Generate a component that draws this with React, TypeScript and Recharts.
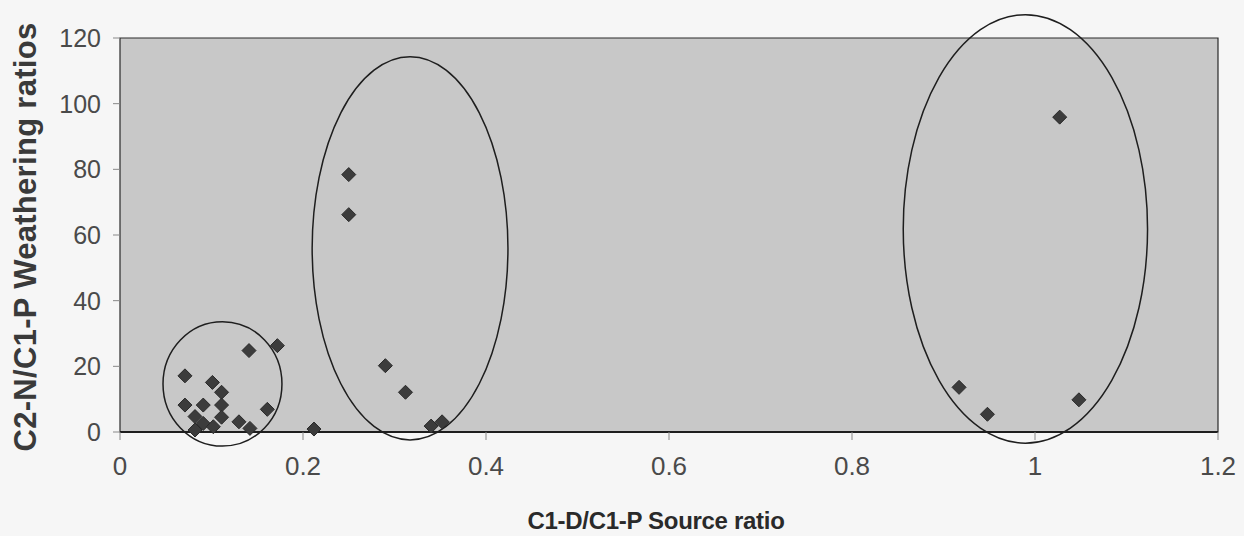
import React from 'react';
import {
  ScatterChart,
  Scatter,
  XAxis,
  YAxis,
  ReferenceArea,
} from 'recharts';

// source ratio (x) and weathering ratio (y) for each sample
const sourceRatio = [
  0.071, 0.141, 0.172, 0.101, 0.111, 0.071, 0.091, 0.111, 0.111, 0.082, 0.091, 0.082, 0.102, 0.13,
  0.142, 0.161, 0.212, 0.25, 0.25, 0.29, 0.312, 0.34, 0.352, 1.027, 0.917, 0.948, 1.048,
];
const weatheringRatio = [
  17.1, 24.8, 26.3, 15.1, 12.1, 8.2, 8.2, 8.2, 4.5, 4.7, 2.6, 0.6, 1.6, 3.1,
  1.1, 6.9, 0.9, 78.4, 66.2, 20.2, 12.1, 1.8, 3.1, 95.9, 13.6, 5.4, 9.8,
];

const xTicks = [0, 0.2, 0.4, 0.6, 0.8, 1, 1.2];
const yTicks = [0, 20, 40, 60, 80, 100, 120];

// group outlines, bounding boxes in data units
const groupX1 = [0.047, 0.21, 0.856];
const groupX2 = [0.177, 0.424, 1.123];
const groupY1 = [-4.3, -2.4, -3.4];
const groupY2 = [33.6, 114.3, 127.1];

const points = sourceRatio.map((x, i) => ({ x, y: weatheringRatio[i] }));

const font = '"Liberation Sans", Arial, sans-serif';

const Diamond = (props: any) => {
  const { cx, cy } = props;
  const r = 7;
  return (
    <polygon
      points={`${cx},${cy - r} ${cx + r},${cy} ${cx},${cy + r} ${cx - r},${cy}`}
      fill="#3c3c3c"
      stroke="#2a2a2a"
      strokeWidth={1}
    />
  );
};

const Ellipse = (props: any) => {
  const { x, y, width, height } = props;
  return (
    <ellipse
      cx={x + width / 2}
      cy={y + height / 2}
      rx={width / 2}
      ry={height / 2}
      fill="none"
      stroke="#1e1e1e"
      strokeWidth={1.5}
    />
  );
};

const YLabel = (props: any) => {
  const { viewBox } = props;
  const cy = viewBox.y + viewBox.height / 2 + 2;
  return (
    <text
      x={25}
      y={cy}
      transform={`rotate(-90, 25, ${cy})`}
      textAnchor="middle"
      dominantBaseline="central"
      fontFamily={font}
      fontWeight="bold"
      fontSize={31}
      letterSpacing={0.3}
      fill="#3a3a3a"
    >
      C2-N/C1-P Weathering ratios
    </text>
  );
};

const XLabel = (props: any) => {
  const { viewBox } = props;
  return (
    <text
      x={656}
      y={viewBox.y + viewBox.height - 16}
      textAnchor="middle"
      dominantBaseline="central"
      fontFamily={font}
      fontWeight="bold"
      fontSize={24}
      letterSpacing={-0.3}
      fill="#2a2a2a"
    >
      C1-D/C1-P Source ratio
    </text>
  );
};

export default function App() {
  return (
    <div style={{ position: 'absolute', left: 0, top: 0, width: 1244, height: 536, background: '#f6f6f6' }}>
      <ScatterChart width={1244} height={536} margin={{ top: 38, right: 26, bottom: 0, left: 0 }}>
        <ReferenceArea
          x1={0}
          x2={1.2}
          y1={0}
          y2={120}
          fill="#c8c8c8"
          fillOpacity={1}
          stroke="#2a2a2a"
          strokeWidth={1.2}
        />
        <XAxis
          type="number"
          dataKey="x"
          domain={[0, 1.2]}
          ticks={xTicks}
          height={104}
          axisLine={{ stroke: '#1e1e1e', strokeWidth: 2 }}
          tickLine={{ stroke: '#888' }}
          tickSize={8}
          tickMargin={17}
          tick={{ fontFamily: font, fontSize: 26, fill: '#4a4a4a' }}
          label={<XLabel />}
        />
        <YAxis
          type="number"
          dataKey="y"
          domain={[0, 120]}
          ticks={yTicks}
          width={120}
          axisLine={false}
          tickLine={{ stroke: '#888' }}
          tickSize={7}
          tickMargin={12}
          tick={{ fontFamily: font, fontSize: 25, fill: '#4a4a4a' }}
          label={<YLabel />}
        />
        {groupX1.map((x1, i) => (
          <ReferenceArea
            key={i}
            x1={x1}
            x2={groupX2[i]}
            y1={groupY1[i]}
            y2={groupY2[i]}
            ifOverflow="visible"
            shape={<Ellipse />}
          />
        ))}
        <Scatter data={points} shape={<Diamond />} isAnimationActive={false} />
      </ScatterChart>
    </div>
  );
}
